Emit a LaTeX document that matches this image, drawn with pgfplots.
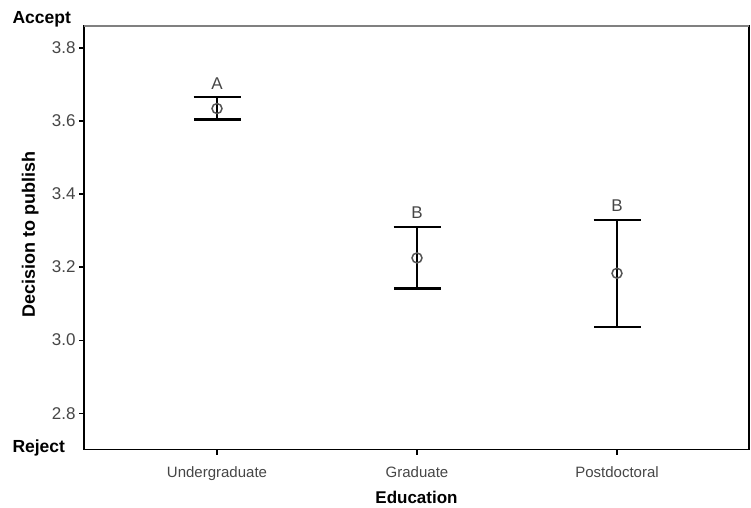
\documentclass[border=0pt]{standalone}
\usepackage{fontspec}
\setmainfont{Liberation Sans}
\usepackage{pgfplots}
\pgfplotsset{compat=1.18}
\definecolor{tickgray}{RGB}{70,70,70}
\definecolor{markgray}{RGB}{85,85,85}
\begin{document}
\begin{tikzpicture}
\path[use as bounding box] (0,0) rectangle (751bp,508bp);
\begin{axis}[
  at={(84bp,58.3bp)}, anchor=south west,
  scale only axis, width=665bp, height=423.7bp,
  xmin=0.335, xmax=3.66, ymin=2.70, ymax=3.86,
  xtick={1,2,3}, xticklabels={Undergraduate,Graduate,Postdoctoral},
  ytick={2.8,3.0,3.2,3.4,3.6,3.8},
  tick align=outside, xtick pos=bottom, ytick pos=left,
  major tick length=5bp,
  tick style={black, line width=1.2bp},
  axis line style={black, line width=1.2bp},
  xticklabel style={font=\fontsize{15bp}{17bp}\selectfont, text=tickgray, yshift=-8bp},
  yticklabel style={font=\fontsize{17bp}{19bp}\selectfont, text=tickgray},
  /pgf/number format/.cd, fixed, fixed zerofill, precision=1, assume math mode=true,
  /pgfplots/.cd,
  xlabel={Education}, ylabel={Decision to publish},
  label style={font=\fontsize{17bp}{20bp}\selectfont\bfseries},
  xlabel style={at={(axis description cs:0.5,-0.113)}, anchor=center, inner sep=1bp},
  ylabel style={at={(axis description cs:-0.081,0.509)}, anchor=center, font=\fontsize{18bp}{20bp}\selectfont\bfseries},
  clip=false,
]
\draw[gray, line width=1.5bp] (rel axis cs:0,1) -- (rel axis cs:1,1);
\addplot[only marks, black, mark=o, mark size=5bp, mark options={markgray, line width=1.5bp},
  error bars/.cd, y dir=both, y explicit,
  error bar style={black, line width=1.2bp},
  error mark options={rotate=90, mark size=23.5bp, line width=2.5bp}]
  coordinates {(1,3.634) += (0,0.032) -= (0,0.030)
               (2,3.225) += (0,0.085) -= (0,0.084)};
\addplot[only marks, black, mark=o, mark size=5bp, mark options={markgray, line width=1.5bp},
  error bars/.cd, y dir=both, y explicit,
  error bar style={black, line width=1.2bp},
  error mark options={rotate=90, mark size=23.5bp, line width=1.8bp}]
  coordinates {(3,3.183) += (0,0.146) -= (0,0.148)};
\node[text=tickgray, font=\fontsize{17bp}{19bp}\selectfont] at (axis cs:1,3.703) {A};
\node[text=tickgray, font=\fontsize{17bp}{19bp}\selectfont] at (axis cs:2,3.348) {B};
\node[text=tickgray, font=\fontsize{17bp}{19bp}\selectfont] at (axis cs:3,3.369) {B};
\end{axis}
\node[anchor=west, font=\fontsize{17.5bp}{20bp}\selectfont\bfseries] at (9bp,489bp) {Accept};
\node[anchor=west, font=\fontsize{17.5bp}{20bp}\selectfont\bfseries] at (9bp,60bp) {Reject};
\end{tikzpicture}
\end{document}
